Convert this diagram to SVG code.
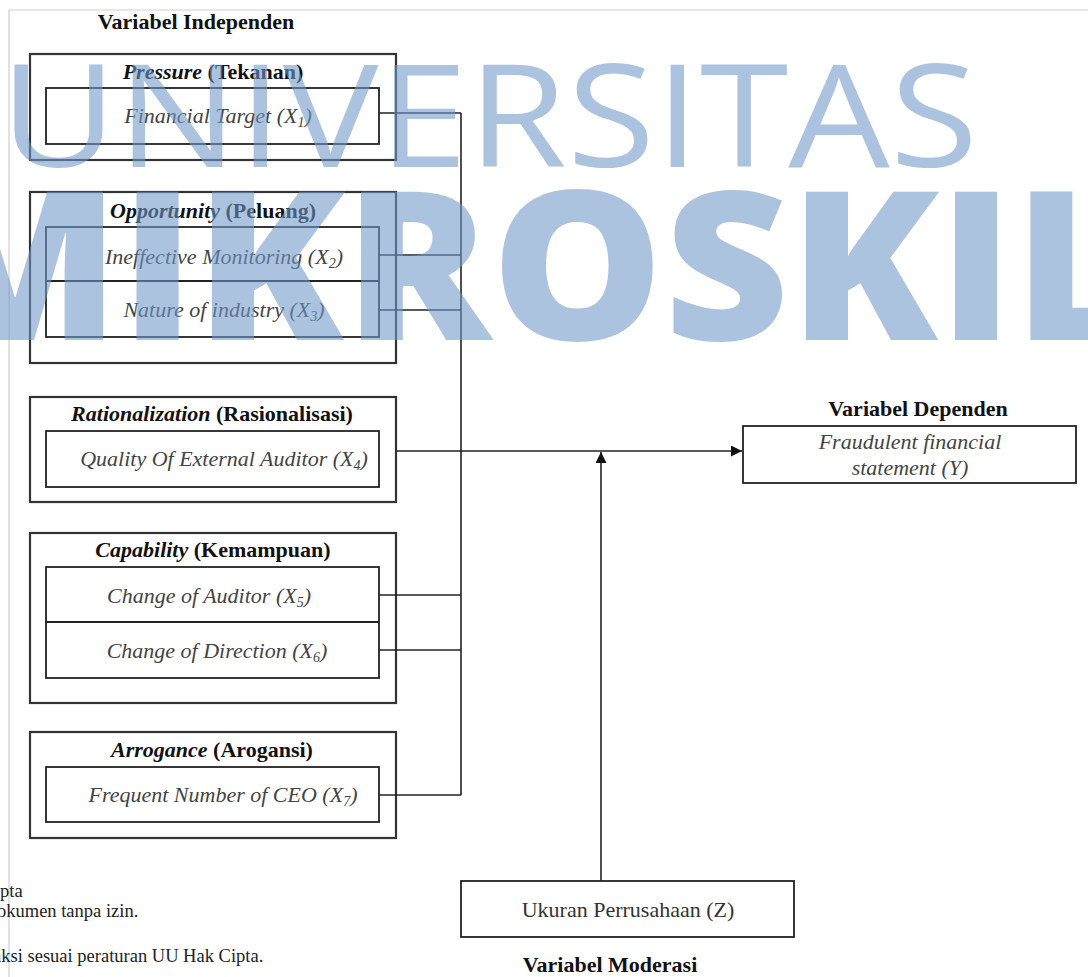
<svg xmlns="http://www.w3.org/2000/svg" width="1088" height="977" viewBox="0 0 1088 977">
<style>
.bg{fill:#fff}
.frame{stroke:#cfcfcf;stroke-width:1.2;fill:none}
.outer{fill:none;stroke:#333;stroke-width:2.2}
.inner{fill:none;stroke:#222;stroke-width:1.8}
.line{fill:none;stroke:#222;stroke-width:1.6}
.head{font-family:"Liberation Serif",serif;font-weight:bold;font-size:22px;fill:#111;text-anchor:middle}
.title{font-family:"Liberation Serif",serif;font-weight:bold;font-size:22px;fill:#111;text-anchor:middle}
.it{font-style:italic}
.var{font-family:"Liberation Serif",serif;font-style:italic;font-size:22px;fill:#444;text-anchor:middle}
.reg{font-family:"Liberation Serif",serif;font-size:22px;fill:#333;text-anchor:middle}
.foot{font-family:"Liberation Serif",serif;font-size:18.5px;fill:#222}
.sub{font-size:14px}
.wm{font-family:"Open Sans",sans-serif;fill:#7199cb;opacity:0.58}
</style>
<defs>
<marker id="arr" viewBox="0 0 10 10" refX="10" refY="5" markerWidth="11" markerHeight="11" markerUnits="userSpaceOnUse" orient="auto">
<path d="M0,0 L10,5 L0,10 z" fill="#111"/>
</marker>
</defs>
<rect class="bg" x="0" y="0" width="1088" height="977"/>
<line class="frame" x1="9" y1="10" x2="1088" y2="10"/>
<line class="frame" x1="9" y1="10" x2="9" y2="977"/>

<text class="head" x="196" y="29">Variabel Independen</text>

<g id="pressure">
<rect class="outer" x="30" y="54" width="366" height="106"/>
<text class="title" x="213" y="79"><tspan class="it">Pressure</tspan> (Tekanan)</text>
<rect class="inner" x="46" y="88" width="333" height="56"/>
<text class="var" x="218" y="123">Financial Target (X<tspan class="sub" dy="4">1</tspan><tspan dy="-4">)</tspan></text>
</g>

<g id="opportunity">
<rect class="outer" x="30" y="192" width="366" height="171"/>
<text class="title" x="213" y="218"><tspan class="it">Opportunity</tspan> (Peluang)</text>
<rect class="inner" x="46" y="227" width="333" height="110"/>
<line class="inner" x1="46" y1="281" x2="379" y2="281"/>
<text class="var" x="224" y="264">Ineffective Monitoring (X<tspan class="sub" dy="4">2</tspan><tspan dy="-4">)</tspan></text>
<text class="var" x="224" y="317">Nature of industry (X<tspan class="sub" dy="4">3</tspan><tspan dy="-4">)</tspan></text>
</g>

<g id="rationalization">
<rect class="outer" x="30" y="397" width="366" height="105"/>
<text class="title" x="212" y="421"><tspan class="it">Rationalization</tspan> (Rasionalisasi)</text>
<rect class="inner" x="46" y="431" width="333" height="56"/>
<text class="var" x="224" y="466">Quality Of External Auditor (X<tspan class="sub" dy="4">4</tspan><tspan dy="-4">)</tspan></text>
</g>

<g id="capability">
<rect class="outer" x="30" y="533" width="366" height="170"/>
<text class="title" x="213" y="557"><tspan class="it">Capability</tspan> (Kemampuan)</text>
<rect class="inner" x="46" y="567" width="333" height="111"/>
<line class="inner" x1="46" y1="622" x2="379" y2="622"/>
<text class="var" x="209" y="603">Change of Auditor (X<tspan class="sub" dy="4">5</tspan><tspan dy="-4">)</tspan></text>
<text class="var" x="217" y="658">Change of Direction (X<tspan class="sub" dy="4">6</tspan><tspan dy="-4">)</tspan></text>
</g>

<g id="arrogance">
<rect class="outer" x="30" y="732" width="366" height="106"/>
<text class="title" x="212" y="757"><tspan class="it">Arrogance</tspan> (Arogansi)</text>
<rect class="inner" x="46" y="767" width="333" height="55"/>
<text class="var" x="223" y="802">Frequent Number of CEO (X<tspan class="sub" dy="4">7</tspan><tspan dy="-4">)</tspan></text>
</g>

<g id="dependent">
<text class="head" x="918" y="416">Variabel Dependen</text>
<rect class="inner" x="743" y="426" width="333" height="57"/>
<text class="var" x="910" y="449">Fraudulent financial</text>
<text class="var" x="910" y="475">statement (Y)</text>
</g>

<g id="moderation">
<rect class="inner" x="461" y="881" width="333" height="56"/>
<text class="reg" x="628" y="917">Ukuran Perrusahaan (Z)</text>
<text class="head" x="610" y="972">Variabel Moderasi</text>
</g>

<g id="connectors">
<line class="line" x1="461" y1="113" x2="461" y2="795"/>
<line class="line" x1="379" y1="113" x2="461" y2="113"/>
<line class="line" x1="379" y1="255" x2="461" y2="255"/>
<line class="line" x1="379" y1="310" x2="461" y2="310"/>
<line class="line" x1="379" y1="595" x2="461" y2="595"/>
<line class="line" x1="379" y1="650" x2="461" y2="650"/>
<line class="line" x1="379" y1="795" x2="461" y2="795"/>
<line class="line" x1="396" y1="451" x2="742" y2="451" marker-end="url(#arr)"/>
<line class="line" x1="601" y1="881" x2="601" y2="452" marker-end="url(#arr)"/>
</g>

<text class="foot" x="0" y="897">pta</text>
<text class="foot" x="-3" y="917">okumen tanpa izin.</text>
<text class="foot" x="-8" y="962">nksi sesuai peraturan UU Hak Cipta.</text>

<text class="wm" x="0" y="167" font-size="143" font-weight="400" textLength="978" lengthAdjust="spacingAndGlyphs">UNIVERSITAS</text>
<text class="wm" x="-90" y="340" font-size="207" font-weight="800" textLength="1230" lengthAdjust="spacingAndGlyphs">MIKROSKIL</text>
</svg>
